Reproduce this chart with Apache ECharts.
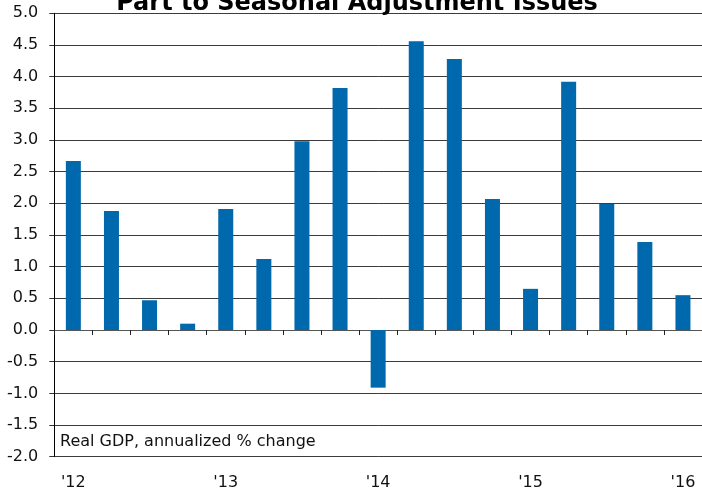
<!DOCTYPE html>
<html>
<head>
<meta charset="utf-8">
<script src="https://cdn.jsdelivr.net/npm/echarts@6/dist/echarts.min.js"></script>
<style>
html,body{margin:0;padding:0;background:#fff;}
#chart{width:702px;height:491px;}
</style>
</head>
<body>
<div id="chart"></div>
<script>
// Quarters 2012Q1 .. 2016Q1
var quarters = ['2012Q1','2012Q2','2012Q3','2012Q4','2013Q1','2013Q2','2013Q3','2013Q4',
                '2014Q1','2014Q2','2014Q3','2014Q4','2015Q1','2015Q2','2015Q3','2015Q4','2016Q1'];
var gdpGrowth = [2.67, 1.88, 0.47, 0.10, 1.91, 1.12, 2.98, 3.82,
                 -0.91, 4.56, 4.28, 2.07, 0.65, 3.92, 1.99, 1.39, 0.55];
var yearTickLabels = ["'12", "'13", "'14", "'15", "'16"];
var titleText = 'Part to Seasonal Adjustment Issues';
var seriesLabel = 'Real GDP, annualized % change';

var chart = echarts.init(document.getElementById('chart'), null, {renderer: 'canvas'});
var font = '"DejaVu Sans", Verdana, sans-serif';
chart.setOption({
  animation: false,
  backgroundColor: '#ffffff',
  title: {
    text: titleText,
    left: 357,
    textAlign: 'center',
    top: -8,
    padding: 0,
    textStyle: {fontFamily: font, fontWeight: 'bold', fontSize: 24, lineHeight: 24, color: '#000'}
  },
  grid: {left: 54.3, right: -4.6, top: 13.3, bottom: 34.3, containLabel: false},
  xAxis: [{
    type: 'category',
    data: quarters,
    position: 'bottom',
    axisLine: {onZero: true, lineStyle: {color: '#555', width: 1}},
    axisTick: {show: true, interval: 0, length: 5, inside: false, lineStyle: {color: '#222'}},
    axisLabel: {show: false, interval: 0},
    splitLine: {show: false}
  }, {
    type: 'category',
    data: quarters,
    position: 'bottom',
    axisLine: {show: false, onZero: false},
    axisTick: {show: false},
    axisLabel: {
      show: true,
      interval: 3,
      margin: 18,
      fontFamily: font,
      fontSize: 16,
      color: '#111',
      formatter: function (v, i) { return yearTickLabels[Math.floor(i / 4)]; }
    },
    splitLine: {show: false}
  }],
  yAxis: {
    type: 'value',
    min: -2,
    max: 5,
    interval: 0.5,
    axisLine: {show: true, lineStyle: {color: '#000', width: 1}},
    axisTick: {show: true, length: 5, lineStyle: {color: '#333'}},
    axisLabel: {
      margin: 16,
      fontFamily: font,
      fontSize: 16,
      color: '#111',
      formatter: function (v) { return v.toFixed(1); }
    },
    splitLine: {show: true, lineStyle: {color: '#3c3c3c', width: 1}}
  },
  graphic: [{
    type: 'text',
    left: 60,
    top: 434,
    style: {text: seriesLabel, font: '16px "DejaVu Sans", Verdana, sans-serif', fill: '#111'}
  }],
  series: [{
    type: 'bar',
    xAxisIndex: 0,
    data: gdpGrowth,
    barWidth: 15,
    itemStyle: {color: '#0068AC'}
  }]
});
</script>
</body>
</html>
